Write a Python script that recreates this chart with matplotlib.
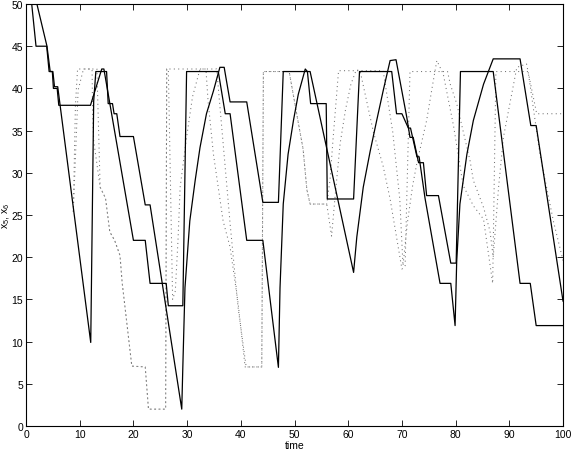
import matplotlib
matplotlib.use('Agg')
import matplotlib.pyplot as plt

plt.rcParams['font.family'] = ['Liberation Sans', 'DejaVu Sans']
plt.rcParams['mathtext.default'] = 'regular'

# solid line 1
a_t = [0, 1.86, 3.85, 4.3, 4.9, 5.1, 5.8, 6.1, 12.0, 14.1, 14.5, 20.0, 22.2, 23.1, 26.1, 26.5,
       29.2, 29.9, 35.8, 37.1, 38.0, 41.1, 44.1, 47.0, 47.3, 47.9, 48.8, 49.8, 50.7, 52.0,
       52.4, 53.0, 55.9, 56.1, 61.0, 62.1, 68.1, 69.0, 70.0, 71.2, 71.6, 72.8, 73.2, 74.3,
       77.1, 79.1, 79.9, 80.2, 80.8, 82.1, 83.3, 85.2, 87.0, 92.0, 94.0, 95.0, 100]
a_x = [56.6, 45.0, 45.0, 42.0, 42.0, 40.0, 40.0, 38.0, 38.0, 42.3, 42.3, 22.0, 22.0, 16.9, 16.9, 14.25,
       14.25, 42.0, 42.0, 37.0, 37.0, 22.0, 22.0, 6.95, 16.4, 26.3, 32.2, 36.2, 39.3, 42.3,
       42.0, 38.2, 38.2, 26.9, 26.9, 42.0, 42.0, 37.0, 37.0, 35.3, 35.3, 31.9, 31.9, 27.0,
       16.9, 16.9, 11.9, 19.5, 26.3, 32.2, 36.2, 40.5, 43.5, 43.5, 35.6, 35.6, 14.8]

# solid line 2
b_t = [0, 3.9, 4.5, 5.0, 5.3, 5.9, 12.05, 12.6, 13.0, 15.0, 15.3, 16.1, 16.4, 16.9, 17.5, 20.0,
       22.2, 23.1, 29.0, 29.2, 29.6, 30.5, 31.5, 32.4, 33.6, 34.9, 36.1, 36.9, 38.0, 41.1,
       44.1, 47.0, 47.9, 52.9, 61.0, 61.6, 62.8, 64.1, 65.3, 66.5, 67.8, 68.9, 70.9, 71.5,
       72.1, 73.1, 74.0, 74.6, 76.8, 79.1, 80.1, 80.9, 87.0, 92.0, 93.9, 95.0, 100]
b_x = [55.4, 45.0, 42.0, 42.0, 40.2, 40.2, 9.9, 38.5, 42.0, 42.0, 38.2, 38.2, 37.0, 37.0, 34.3, 34.3,
       26.2, 26.2, 2.0, 7.0, 16.4, 24.3, 29.1, 33.0, 37.0, 39.7, 42.5, 42.5, 38.4, 38.4,
       26.5, 26.5, 42.0, 42.0, 18.2, 22.4, 28.3, 32.6, 36.2, 39.7, 43.3, 43.4, 36.6, 34.2,
       34.2, 31.2, 31.2, 27.3, 27.3, 19.3, 19.3, 42.0, 42.0, 16.9, 16.9, 11.9, 11.9]

# dotted line 1
c_t = [8.8, 9.2, 9.6, 13.2, 13.8, 14.8, 15.6, 16.5, 17.5, 17.9, 19.7, 22.2, 22.8, 26.0, 26.2,
       33.5, 33.9, 34.9, 36.7, 38.0, 39.5, 40.8, 43.9, 44.2, 49.0, 50.4, 51.6, 52.3, 52.9,
       56.0, 56.9, 57.6, 58.5, 59.5, 60.5, 61.5, 62.2, 64.7, 66.5, 67.8, 70.0, 70.6, 70.9,
       71.5, 78.5, 79.0, 80.2, 82.7, 83.3, 85.2, 86.4, 87.0, 88.0, 88.9, 90.1, 91.4, 93.2,
       95.1, 100]
c_x = [25.4, 38.0, 42.3, 42.3, 28.3, 27.0, 23.0, 22.0, 20.2, 17.0, 7.1, 7.0, 2.0, 2.0, 42.3,
       42.3, 38.5, 32.2, 24.3, 21.2, 14.5, 7.0, 7.0, 42.0, 42.0, 37.0, 32.8, 28.0, 26.3,
       26.3, 22.5, 27.5, 33.5, 37.5, 40.5, 42.2, 42.1, 34.8, 30.8, 26.9, 18.6, 19.0, 26.9,
       42.0, 42.0, 40.5, 38.2, 31.4, 29.1, 25.9, 23.1, 20.0, 28.3, 34.2, 38.2, 42.5, 42.9,
       37.0, 37.0]

# dotted line 2
d_t = [8.8, 9.7, 10.7, 12.3, 12.4, 12.6, 13.8, 14.8, 15.6, 16.5, 17.5, 17.9, 19.7, 22.2, 22.8,
       26.0, 26.2, 26.5, 27.3, 27.8, 28.3, 28.7, 29.9, 31.0, 32.4, 35.5, 36.5, 38.0, 39.5,
       41.0, 43.9, 44.2, 49.0, 50.4, 51.6, 52.3, 52.9, 56.0, 56.6, 57.2, 58.2, 66.5, 68.3,
       69.6, 70.2, 71.0, 72.0, 72.8, 74.6, 75.6, 76.5, 77.7, 79.6, 81.4, 83.3, 85.2, 86.9,
       87.5, 93.5, 95.7, 98.2, 100]
d_x = [25.4, 39.8, 42.3, 42.3, 37.0, 33.8, 28.3, 27.0, 23.0, 22.0, 20.2, 17.0, 7.1, 7.0, 2.0,
       2.0, 42.3, 42.3, 15.0, 16.0, 22.0, 28.3, 34.2, 39.0, 42.3, 42.3, 35.0, 24.0, 14.0,
       7.0, 7.0, 42.0, 42.0, 37.0, 32.8, 28.0, 26.3, 26.3, 29.1, 34.2, 42.1, 42.1, 34.8,
       26.9, 19.0, 24.0, 28.5, 31.2, 36.2, 40.0, 43.3, 41.7, 35.6, 28.5, 26.1, 24.5, 16.9,
       42.0, 42.0, 32.2, 24.3, 19.6]

x_ticks = list(range(0, 101, 10))
y_ticks = list(range(0, 51, 5))

fig = plt.figure(figsize=(5.72, 4.60), dpi=100)
ax = fig.add_axes([0.0455, 0.0717, 0.9388, 0.9174])

dots = (0, (1, 3.2))
ax.plot(c_t, c_x, color='0.45', lw=0.75, linestyle=dots)
ax.plot(d_t, d_x, color='0.45', lw=0.75, linestyle=dots)
ax.plot(a_t, a_x, color='k', lw=0.9)
ax.plot(b_t, b_x, color='k', lw=0.9)

ax.set_xlim(0, 100)
ax.set_ylim(0, 50)
ax.set_xticks(x_ticks)
ax.set_yticks(y_ticks)
ax.tick_params(direction='in', top=True, right=True, length=4, width=0.6,
               labelsize=7.5, pad=2)
for s in ax.spines.values():
    s.set_linewidth(0.8)

ax.set_xlabel('time', fontsize=7.5, labelpad=1)
ax.set_ylabel('x$_5$, x$_6$', fontsize=7.5, labelpad=0)

fig.savefig('out.png', dpi=100)
